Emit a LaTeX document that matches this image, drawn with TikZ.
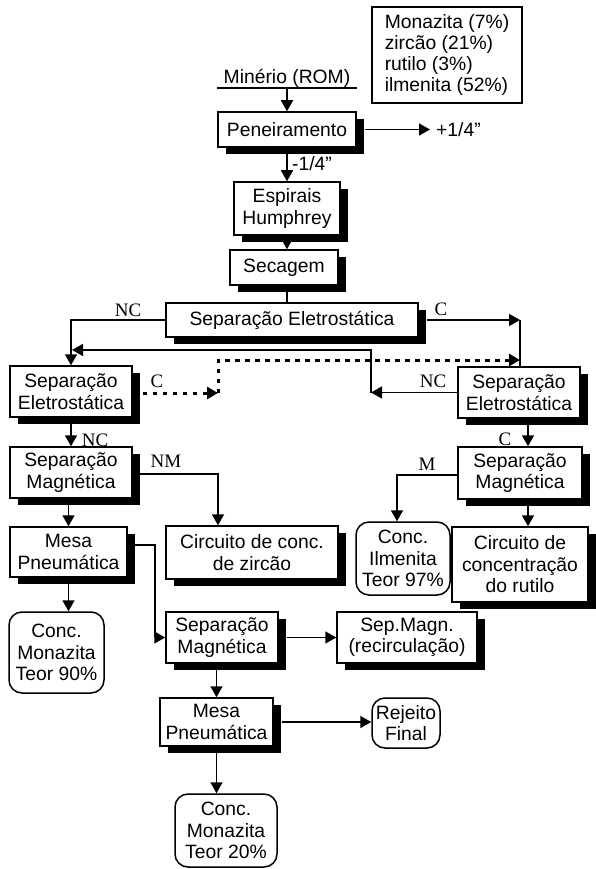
\documentclass[tikz,border=0pt]{standalone}
\usepackage{fontspec}
\setmainfont{Liberation Sans}
\newfontfamily\lblfont{Liberation Serif}
\usetikzlibrary{arrows.meta,shadows}
\tikzset{
  box/.style={draw, line width=1.5pt, fill=white,
    drop shadow={shadow xshift=8pt, shadow yshift=-7pt, fill=black, opacity=1}},
  rbox/.style={draw, line width=1.5pt, fill=white, rounded corners=13pt},
  conn/.style={line width=1.6pt, -{Triangle[length=11pt,width=12pt]}},
  plainline/.style={line width=1.6pt},
  lbl/.style={font=\lblfont\fontsize{19}{21}\selectfont},
  dotline/.style={line width=3pt, dash pattern=on 4.5pt off 5.5pt}
}
\begin{document}
\begin{tikzpicture}[x=1pt,y=-1pt,
  every node/.style={font=\fontsize{19.3}{21.5}\selectfont, inner sep=0pt, align=center}]
\useasboundingbox (0,0) rectangle (596,869);

% legend
\node[draw, line width=1.5pt, minimum width=150pt, minimum height=96pt, align=left,
  font=\fontsize{19.3}{20.7}\selectfont] (leg) at (447,55)
  {Monazita (7\%)\\zircão (21\%)\\rutilo (3\%)\\ilmenita (52\%)};

% nodes
\node[minimum width=140pt, anchor=south] (rom) at (287,88) {Minério (ROM)};
\node[box, minimum width=138pt, minimum height=35pt] (pen) at (287,129.5) {Peneiramento};
\node[anchor=west, inner xsep=6pt] (plus) at (430,130) {+1/4”};
\node[anchor=west] (m14) at (292,164) {-1/4”};
\node[box, minimum width=106pt, minimum height=53pt] (esp) at (287,208.5) {Espirais\\Humphrey};
\node[box, minimum width=108pt, minimum height=35pt] (sec) at (284,267.5) {Secagem};
\node[box, minimum width=252pt, minimum height=34pt] (big) at (292,320) {Separação Eletrostática};

\node[box, minimum width=122pt, minimum height=51pt] (sel) at (71,391.5) {Separação\\Eletrostática};
\node[box, minimum width=122pt, minimum height=51pt] (sml) at (71,472.5) {Separação\\Magnética};
\node[box, minimum width=117pt, minimum height=50pt] (mpl) at (68.5,552) {Mesa\\Pneumática};
\node[rbox, minimum width=95pt, minimum height=81pt] (cm90) at (56.5,652.5) {Conc.\\Monazita\\Teor 90\%};
\node[box, minimum width=172pt, minimum height=53pt] (cz) at (252,552.5) {Circuito de conc.\\de zircão};

\node[box, minimum width=122pt, minimum height=51pt] (ser) at (519,392.5) {Separação\\Eletrostática};
\node[box, minimum width=124pt, minimum height=52pt] (smr) at (520,473) {Separação\\Magnética};
\node[rbox, minimum width=94pt, minimum height=73pt] (ci) at (403,558.5) {Conc.\\Ilmenita\\Teor 97\%};
\node[box, minimum width=136pt, minimum height=75pt] (cr) at (520,564.5) {Circuito de\\concentração\\do rutilo};

\node[box, minimum width=112pt, minimum height=51pt] (smm) at (222,637.5) {Separação\\Magnética};
\node[box, minimum width=140pt, minimum height=51pt] (smc) at (407,637.5) {Sep.Magn.\\(recirculação)};
\node[box, minimum width=113pt, minimum height=48pt] (mpm) at (216.5,722) {Mesa\\Pneumática};
\node[rbox, minimum width=68pt, minimum height=50pt] (rf) at (406,723) {Rejeito\\Final};
\node[rbox, minimum width=102pt, minimum height=73pt] (cm20) at (226,830.5) {Conc.\\Monazita\\Teor 20\%};

% labels
\node[lbl] (lnc1) at (128,310.5) {NC};
\node[lbl] (lc1) at (441,309) {C};
\node[lbl] (lc2) at (157,381) {C};
\node[lbl] (lnc2) at (433,381) {NC};
\node[lbl] (lnc3) at (95,440) {NC};
\node[lbl] (lnm) at (166,461) {NM};
\node[lbl] (lc3) at (505,439) {C};
\node[lbl] (lm) at (427,464) {M};

% coordinates
\coordinate (cR) at (520,320);
\coordinate (dA) at (218,393);
\coordinate (dB) at (218,360);
\coordinate (dC) at (520,360);
\coordinate (rB) at (371,350);
\coordinate (rC) at (72,350);
\coordinate (nm) at (218,474);
\coordinate (mA) at (155,545);
\coordinate (mM) at (397,475);

% connectors
\draw[plainline] (rom.south west) -- (rom.south east);
\draw[conn] (rom.south) -- (pen.north);
\draw[conn] ([xshift=8pt]pen.east) -- (pen.east -| plus.west);
\draw[conn] (pen.south) -- (pen.south |- esp.north);
\draw[conn] (esp.south) -- (esp.south |- sec.north);
\draw[plainline] (esp.south |- sec.south) -- (esp.south |- big.north);

\draw[conn] (big.west) -| (sel.north);
\draw[conn] ([xshift=8pt]big.east) -- (cR);
\draw[plainline] (cR) -- (cR |- ser.north);

\draw[conn, dotline] (sel.east |- dA) -- (dA);
\draw[conn, dotline] (dA) -- (dB) -- (dC);

\draw[conn] (ser.west) -- (ser.west -| rB);
\draw[conn] (ser.west -| rB) -- (rB) -- (rC);

\draw[conn] (sel.south) -- (sml.north);
\draw[conn] (sml.east |- nm) -- (nm) -- (nm |- cz.north);
\draw[conn] (mpl.north |- sml.south) -- (mpl.north);
\draw[conn] (mpl.east |- mA) -- (mA) |- (smm.west);
\draw[conn] (mpl.south) -- (mpl.south |- cm90.north);

\draw[conn] ([xshift=9pt]ser.south) -- ([xshift=9pt]ser.south |- smr.north);
\draw[conn] (smr.west |- mM) -- (mM) -- (mM |- ci.north);
\draw[conn] ([xshift=8pt]smr.south) -- ([xshift=8pt]smr.south |- cr.north);

\draw[conn] ([xshift=8pt]smm.east) -- (smc.west);
\draw[conn] (mpm.north |- smm.south) -- (mpm.north);
\draw[conn] ([xshift=8pt]mpm.east) -- (mpm.east -| rf.west);
\draw[conn] (mpm.south) -- (mpm.south |- cm20.north);
\end{tikzpicture}
\end{document}
